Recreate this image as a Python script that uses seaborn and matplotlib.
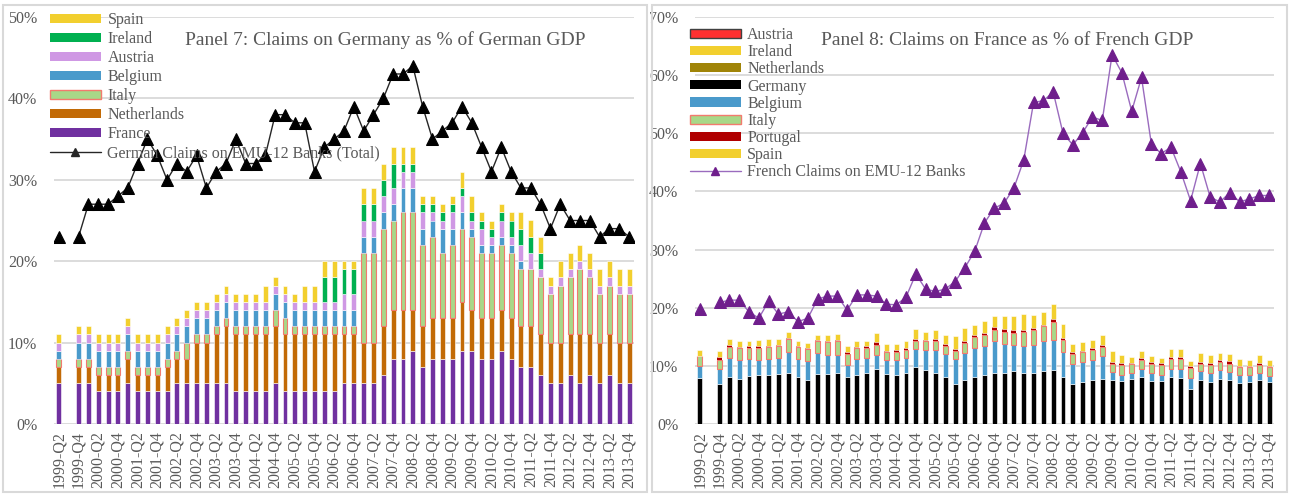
import numpy as np
import pandas as pd
import matplotlib
matplotlib.use("Agg")
import matplotlib.pyplot as plt
import seaborn as sns
from matplotlib.patches import Patch, Rectangle
from matplotlib.lines import Line2D
from matplotlib.ticker import FuncFormatter

nan = np.nan
quarters = [f"{y}-Q{q}" for y in range(1999, 2014) for q in (1, 2, 3, 4)][1:]

# ---------------- Panel 7: claims on Germany (% of German GDP) ----------------
de_france = [5, nan, 5, 5, 4, 4, 4, 5, 4, 4, 4, 4, 5, 5, 5, 5, 5, 5, 4, 4,
             4, 4, 5, 4, 4, 4, 4, 4, 4, 5, 5, 5, 5, 6, 8, 8, 9, 7, 8, 8,
             8, 9, 9, 8, 8, 9, 8, 7, 7, 6, 5, 5, 6, 5, 6, 5, 6, 5, 5]
de_netherlands = [2, nan, 2, 2, 2, 2, 2, 3, 2, 2, 2, 3, 3, 3, 5, 5, 6, 7, 7, 7,
                  7, 7, 7, 7, 7, 7, 7, 7, 7, 6, 6, 5, 5, 6, 6, 6, 5, 5, 5, 5,
                  5, 6, 5, 5, 5, 5, 5, 5, 5, 5, 5, 5, 5, 6, 5, 5, 5, 5, 5]
de_italy = [1, nan, 1, 1, 1, 1, 1, 1, 1, 1, 1, 1, 1, 2, 1, 1, 1, 1, 1, 1,
            1, 1, 2, 2, 1, 1, 1, 1, 1, 1, 1, 11, 11, 12, 11, 12, 12, 10, 10, 8,
            9, 9, 9, 8, 8, 8, 8, 7, 7, 7, 6, 7, 7, 8, 7, 6, 6, 6, 6]
de_belgium = [1, nan, 2, 2, 2, 2, 2, 2, 2, 2, 2, 2, 2, 2, 2, 2, 2, 2, 2, 2,
              2, 2, 2, 2, 2, 2, 2, 2, 2, 2, 2, 2, 2, 2, 2, 3, 3, 2, 2, 3,
              2, 2, 1, 1, 1, 1, 1, 1, 0, 0, 0, 0, 0, 0, 0, 0, 0, 0, 0]
de_austria = [1, nan, 1, 1, 1, 1, 1, 1, 1, 1, 1, 1, 1, 1, 1, 1, 1, 1, 1, 1,
              1, 1, 1, 1, 1, 1, 1, 1, 1, 2, 2, 2, 2, 2, 2, 2, 2, 2, 1, 1,
              2, 2, 1, 2, 1, 2, 1, 2, 2, 1, 1, 1, 1, 1, 1, 1, 1, 1, 1]
de_ireland = [0, nan, 0, 0, 0, 0, 0, 0, 0, 0, 0, 0, 0, 0, 0, 0, 0, 0, 0, 0,
              0, 0, 0, 0, 0, 0, 0, 3, 3, 3, 3, 2, 2, 2, 3, 1, 1, 1, 1, 1,
              1, 1, 1, 1, 1, 1, 2, 2, 2, 2, 0, 0, 0, 0, 0, 0, 0, 0, 0]
de_spain = [1, nan, 1, 1, 1, 1, 1, 1, 1, 1, 1, 1, 1, 1, 1, 1, 1, 1, 1, 1,
            1, 2, 1, 1, 1, 2, 2, 2, 2, 1, 1, 2, 2, 2, 2, 2, 2, 1, 1, 1,
            1, 2, 2, 1, 1, 1, 1, 2, 2, 2, 1, 2, 2, 2, 2, 2, 2, 2, 2]
de_total = [23, nan, 23, 27, 27, 27, 28, 29, 32, 35, 33, 30, 32, 31, 33, 29, 31, 32, 35, 32,
            32, 33, 38, 38, 37, 37, 31, 34, 35, 36, 39, 36, 38, 40, 43, 43, 44, 39, 35, 36,
            37, 39, 37, 34, 31, 34, 31, 29, 29, 27, 24, 27, 25, 25, 25, 23, 24, 24, 23]

# ---------------- Panel 8: claims on France (% of French GDP) ----------------
fr_germany = [7.9, nan, 6.9, 8.1, 7.7, 8.3, 8.4, 8.4, 8.6, 8.7, 8.0, 7.6, 8.6, 8.6, 8.7, 8.0, 8.5, 8.8, 9.4, 8.6,
              8.5, 8.7, 9.8, 9.3, 8.8, 8.1, 6.9, 7.6, 8.1, 8.4, 8.7, 8.7, 9.2, 8.7, 8.7, 9.2, 9.3, 8.1, 6.9, 7.2,
              7.6, 7.7, 7.6, 7.4, 7.7, 8.1, 7.4, 7.4, 8.0, 7.9, 6.1, 7.6, 7.3, 7.7, 7.6, 7.1, 7.3, 7.6, 7.3]
fr_belgium = [2.1, nan, 2.5, 3.2, 3.3, 2.8, 2.6, 2.8, 2.7, 3.7, 3.1, 3.3, 3.6, 3.2, 3.2, 2.2, 2.7, 2.5, 2.5, 2.4,
              2.5, 2.7, 3.1, 3.4, 3.9, 3.9, 4.2, 4.6, 4.9, 5.0, 5.6, 5.1, 4.4, 4.7, 4.9, 5.1, 5.2, 4.2, 3.4, 3.4,
              3.4, 4.0, 1.3, 1.1, 1.1, 1.3, 1.4, 1.1, 1.4, 1.5, 1.8, 1.5, 1.4, 1.6, 1.4, 1.3, 1.1, 1.1, 1.0]
fr_italy = [1.7, nan, 1.6, 1.9, 2.0, 2.0, 2.1, 2.1, 2.1, 2.2, 2.2, 2.0, 2.0, 2.3, 2.3, 1.8, 1.8, 1.8, 1.7, 1.3,
            1.3, 1.3, 1.4, 1.5, 1.6, 1.4, 1.5, 1.8, 1.9, 1.9, 1.8, 2.0, 2.1, 2.5, 2.6, 2.5, 3.1, 2.2, 1.7, 1.7,
            1.7, 1.6, 1.5, 1.7, 1.5, 1.6, 1.6, 1.7, 1.8, 1.8, 1.7, 1.3, 1.5, 1.4, 1.4, 1.4, 1.4, 1.5, 1.5]
fr_portugal = [0.0, nan, 0.5, 0.4, 0.3, 0.3, 0.3, 0.2, 0.2, 0.2, 0.2, 0.2, 0.3, 0.2, 0.2, 0.4, 0.3, 0.3, 0.5, 0.3,
               0.4, 0.4, 0.4, 0.3, 0.3, 0.3, 0.3, 0.3, 0.4, 0.4, 0.5, 0.5, 0.5, 0.3, 0.3, 0.3, 0.5, 0.3, 0.3, 0.3,
               0.3, 0.3, 0.3, 0.3, 0.2, 0.3, 0.3, 0.3, 0.3, 0.3, 0.3, 0.3, 0.3, 0.3, 0.4, 0.2, 0.2, 0.3, 0.2]
fr_spain = [1.0, nan, 1.1, 1.0, 1.0, 0.9, 1.0, 1.1, 1.0, 1.1, 0.8, 0.8, 0.8, 1.0, 1.0, 1.0, 1.0, 0.9, 1.5, 1.2,
            1.1, 1.2, 1.6, 1.4, 1.5, 1.6, 2.2, 2.2, 1.7, 2.0, 1.9, 2.2, 2.3, 2.7, 2.3, 2.1, 2.6, 2.4, 1.5, 1.5,
            1.5, 1.7, 1.9, 1.3, 1.0, 1.3, 1.0, 0.9, 1.4, 1.4, 0.9, 1.5, 1.4, 1.2, 1.2, 1.1, 1.0, 1.4, 1.0]
fr_austria = [0.0] * 59
fr_ireland = [0.0] * 59
fr_netherlands = [0.0] * 59
fr_total = [19.7, nan, 20.9, 21.3, 21.3, 19.3, 18.2, 21.1, 18.9, 19.3, 17.6, 18.2, 21.5, 22.0, 22.0, 19.6, 22.2, 22.2, 22.0, 20.6,
            20.5, 21.8, 25.8, 23.2, 22.8, 23.2, 24.5, 26.9, 29.7, 34.6, 37.1, 38.0, 40.6, 45.4, 55.3, 55.6, 57.1, 50.0, 48.0, 50.1,
            52.8, 52.2, 63.5, 60.4, 53.8, 59.6, 48.2, 46.5, 47.6, 43.4, 38.4, 44.8, 39.0, 38.2, 39.8, 38.2, 38.7, 39.3, 39.3]

# ---------------- styling ----------------
sns.set_theme(style="white")
plt.rcParams['font.family'] = ['Liberation Serif', 'DejaVu Serif']
TXT = '#595959'
GRID = '#D9D9D9'
C = {
    'France': '#7030A0', 'Netherlands': '#C26A06', 'Italy': '#A8D888', 'Belgium': '#4A9ACB',
    'Austria': '#CF98E4', 'Ireland': '#00B050', 'Spain': '#F2CF2E',
    'Germany': '#000000', 'Portugal': '#B00000', 'AustriaFR': '#FF3030', 'NetherlandsFR': '#A08408',
}
ITALY_EDGE = '#F27A6E'

W, H = 1290, 497
fig = plt.figure(figsize=(W / 100, H / 100), dpi=100)
fig.patch.set_facecolor('white')
ax1 = fig.add_axes([54 / W, 73 / H, 580 / W, 407 / H])
ax2 = fig.add_axes([695 / W, 73 / H, 579 / W, 407 / H])

for x0, x1 in [(3, 647), (652, 1287)]:
    fig.add_artist(Rectangle((x0 / W, 5 / H), (x1 - x0) / W, 487 / H, transform=fig.transFigure,
                             fill=False, edgecolor=GRID, lw=1.5))

pos = np.arange(len(quarters))


def stacked(ax, layers, valid):
    bottom = np.zeros(len(pos))
    for vals, color, edge, lw in layers:
        v = np.nan_to_num(np.array(vals, float))
        ax.bar(pos[valid], v[valid], width=0.5, bottom=bottom[valid], color=color,
               edgecolor=edge, linewidth=lw, zorder=2)
        bottom += v


def line(ax, vals, mcolor, lcolor, ms):
    df = pd.DataFrame({'x': pos, 'v': vals})
    df['seg'] = df['v'].isna().cumsum()
    df = df.dropna()
    sns.lineplot(data=df, x='x', y='v', units='seg', estimator=None, ax=ax, color=lcolor,
                 lw=1, marker='^', markersize=ms, markerfacecolor=mcolor, markeredgecolor=mcolor,
                 legend=False, zorder=3)


valid1 = ~np.isnan(np.array(de_france, float))
stacked(ax1, [
    (de_france, C['France'], 'white', 0.4),
    (de_netherlands, C['Netherlands'], 'white', 0.4),
    (de_italy, C['Italy'], ITALY_EDGE, 0.8),
    (de_belgium, C['Belgium'], 'white', 0.4),
    (de_austria, C['Austria'], 'white', 0.4),
    (de_ireland, C['Ireland'], 'white', 0.4),
    (de_spain, C['Spain'], 'white', 0.4),
], valid1)
line(ax1, de_total, '#000000', '#262626', 8.5)

valid2 = ~np.isnan(np.array(fr_germany, float))
stacked(ax2, [
    (fr_germany, C['Germany'], 'white', 0.4),
    (fr_belgium, C['Belgium'], 'white', 0.4),
    (fr_italy, C['Italy'], ITALY_EDGE, 0.8),
    (fr_portugal, C['Portugal'], C['Portugal'], 0.0),
    (fr_netherlands, C['NetherlandsFR'], C['NetherlandsFR'], 0.0),
    (fr_ireland, C['Spain'], C['Spain'], 0.0),
    (fr_austria, C['AustriaFR'], C['AustriaFR'], 0.0),
    (fr_spain, C['Spain'], 'white', 0.4),
], valid2)
line(ax2, fr_total, '#6F1E8C', '#9A6BBE', 8.5)

for ax, ymax in [(ax1, 50), (ax2, 70)]:
    ax.set_xlim(-0.5, len(quarters) - 0.5)
    ax.set_ylim(0, ymax)
    ax.set_yticks(np.arange(0, ymax + 1, 10))
    ax.yaxis.set_major_formatter(FuncFormatter(lambda v, p: f"{v:.0f}%"))
    ax.set_xticks(pos[::2])
    ax.set_xticklabels(quarters[::2], rotation=90)
    ax.tick_params(axis='both', length=0, labelsize=11.5, colors=TXT)
    ax.tick_params(axis='x', pad=5)
    ax.tick_params(axis='y', pad=12)
    ax.grid(axis='y', color=GRID, lw=1.3)
    ax.grid(axis='x', visible=False)
    ax.set_axisbelow(True)
    for s in ax.spines.values():
        s.set_visible(False)
    ax.set_xlabel('')
    ax.set_ylabel('')
    ax.set_facecolor('none')

ax1.text(0.571, 0.943, 'Panel 7: Claims on Germany as % of German GDP', transform=ax1.transAxes,
         ha='center', va='center', fontsize=14, color=TXT)
ax2.text(0.539, 0.943, 'Panel 8: Claims on France as % of French GDP', transform=ax2.transAxes,
         ha='center', va='center', fontsize=14, color=TXT)

h1 = [
    Patch(facecolor=C['Spain'], edgecolor='none'),
    Patch(facecolor=C['Ireland'], edgecolor='none'),
    Patch(facecolor=C['Austria'], edgecolor='none'),
    Patch(facecolor=C['Belgium'], edgecolor='none'),
    Patch(facecolor=C['Italy'], edgecolor=ITALY_EDGE, lw=1),
    Patch(facecolor=C['Netherlands'], edgecolor='none'),
    Patch(facecolor=C['France'], edgecolor='none'),
    Line2D([0], [0], color='#262626', lw=1, marker='^', markersize=6),
]
l1 = ['Spain', 'Ireland', 'Austria', 'Belgium', 'Italy', 'Netherlands', 'France',
      'German Claims on EMU-12 Banks (Total)']
ax1.legend(h1, l1, loc='upper left', bbox_to_anchor=(-0.007, 1.012), frameon=False, fontsize=11.5,
           handlelength=3.2, handleheight=0.5, handletextpad=0.4, labelspacing=0.19,
           borderpad=0, borderaxespad=0, labelcolor=TXT)

h2 = [
    Patch(facecolor=C['AustriaFR'], edgecolor='#404040', lw=1),
    Patch(facecolor=C['Spain'], edgecolor='none'),
    Patch(facecolor=C['NetherlandsFR'], edgecolor='none'),
    Patch(facecolor=C['Germany'], edgecolor='none'),
    Patch(facecolor=C['Belgium'], edgecolor='none'),
    Patch(facecolor=C['Italy'], edgecolor=ITALY_EDGE, lw=1),
    Patch(facecolor=C['Portugal'], edgecolor='none'),
    Patch(facecolor=C['Spain'], edgecolor='none'),
    Line2D([0], [0], color='#9A6BBE', lw=1, marker='^', markersize=6,
           markerfacecolor='#6F1E8C', markeredgecolor='#6F1E8C'),
]
l2 = ['Austria', 'Ireland', 'Netherlands', 'Germany', 'Belgium', 'Italy', 'Portugal', 'Spain',
      'French Claims on EMU-12 Banks']
ax2.legend(h2, l2, loc='upper left', bbox_to_anchor=(-0.009, 0.975), frameon=False, fontsize=11.5,
           handlelength=3.2, handleheight=0.5, handletextpad=0.4, labelspacing=0.07,
           borderpad=0, borderaxespad=0, labelcolor=TXT)

fig.savefig('out.png', dpi=100, facecolor='white')
